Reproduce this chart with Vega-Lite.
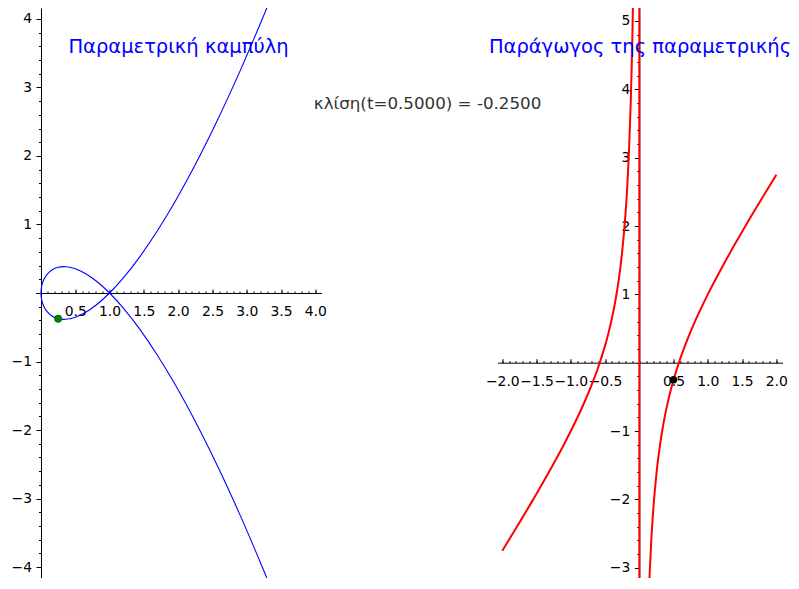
{
  "$schema": "https://vega.github.io/schema/vega-lite/v6.json",
  "padding": {"left": 10.5, "top": 8, "right": 0, "bottom": 0},
  "bounds": "flush",
  "spacing": 176,
  "config": {
    "view": {"stroke": null},
    "font": "DejaVu Sans",
    "axis": {
      "grid": false,
      "title": null,
      "domainColor": "#000000",
      "domainWidth": 1,
      "tickColor": "#000000",
      "tickWidth": 1,
      "labelColor": "#000000",
      "labelFont": "DejaVu Sans",
      "labelFontSize": 13.9,
      "labelFlush": false,
      "labelOverlap": false,
      "labelBound": false
    },
    "title": {"font": "DejaVu Sans", "fontWeight": "normal"}
  },
  "title": {
    "text": "κλίση(t=0.5000) = -0.2500",
    "orient": "top",
    "anchor": "middle",
    "frame": "bounds",
    "offset": -118,
    "baseline": "alphabetic",
    "dx": 26.5,
    "color": "#333333",
    "fontSize": 16.7,
    "fontWeight": "normal",
    "font": "DejaVu Sans"
  },
  "datasets": {
    "curve": [
      {"t": -1.85, "x": 3.4225, "y": -4.481625},
      {"t": -1.8, "x": 3.24, "y": -4.032},
      {"t": -1.7, "x": 2.89, "y": -3.213},
      {"t": -1.6, "x": 2.56, "y": -2.496},
      {"t": -1.5, "x": 2.25, "y": -1.875},
      {"t": -1.4, "x": 1.96, "y": -1.344},
      {"t": -1.3, "x": 1.69, "y": -0.897},
      {"t": -1.2, "x": 1.44, "y": -0.528},
      {"t": -1.1, "x": 1.21, "y": -0.231},
      {"t": -1.0, "x": 1.0, "y": 0.0},
      {"t": -0.9, "x": 0.81, "y": 0.171},
      {"t": -0.8, "x": 0.64, "y": 0.288},
      {"t": -0.7, "x": 0.49, "y": 0.357},
      {"t": -0.6, "x": 0.36, "y": 0.384},
      {"t": -0.5, "x": 0.25, "y": 0.375},
      {"t": -0.4, "x": 0.16, "y": 0.336},
      {"t": -0.3, "x": 0.09, "y": 0.273},
      {"t": -0.2, "x": 0.04, "y": 0.192},
      {"t": -0.1, "x": 0.01, "y": 0.099},
      {"t": 0.0, "x": 0.0, "y": 0.0},
      {"t": 0.1, "x": 0.01, "y": -0.099},
      {"t": 0.2, "x": 0.04, "y": -0.192},
      {"t": 0.3, "x": 0.09, "y": -0.273},
      {"t": 0.4, "x": 0.16, "y": -0.336},
      {"t": 0.5, "x": 0.25, "y": -0.375},
      {"t": 0.6, "x": 0.36, "y": -0.384},
      {"t": 0.7, "x": 0.49, "y": -0.357},
      {"t": 0.8, "x": 0.64, "y": -0.288},
      {"t": 0.9, "x": 0.81, "y": -0.171},
      {"t": 1.0, "x": 1.0, "y": 0.0},
      {"t": 1.1, "x": 1.21, "y": 0.231},
      {"t": 1.2, "x": 1.44, "y": 0.528},
      {"t": 1.3, "x": 1.69, "y": 0.897},
      {"t": 1.4, "x": 1.96, "y": 1.344},
      {"t": 1.5, "x": 2.25, "y": 1.875},
      {"t": 1.6, "x": 2.56, "y": 2.496},
      {"t": 1.7, "x": 2.89, "y": 3.213},
      {"t": 1.8, "x": 3.24, "y": 4.032},
      {"t": 1.85, "x": 3.4225, "y": 4.481625}
    ],
    "deriv": [
      {"t": -2.0, "y": -2.75},
      {"t": -1.9, "y": -2.586842},
      {"t": -1.8, "y": -2.422222},
      {"t": -1.7, "y": -2.255882},
      {"t": -1.6, "y": -2.0875},
      {"t": -1.5, "y": -1.916667},
      {"t": -1.4, "y": -1.742857},
      {"t": -1.3, "y": -1.565385},
      {"t": -1.2, "y": -1.383333},
      {"t": -1.1, "y": -1.195455},
      {"t": -1.0, "y": -1.0},
      {"t": -0.9, "y": -0.794444},
      {"t": -0.8, "y": -0.575},
      {"t": -0.7, "y": -0.335714},
      {"t": -0.6, "y": -0.066667},
      {"t": -0.5, "y": 0.25},
      {"t": -0.45, "y": 0.436111},
      {"t": -0.4, "y": 0.65},
      {"t": -0.35, "y": 0.903571},
      {"t": -0.3, "y": 1.216667},
      {"t": -0.25, "y": 1.625},
      {"t": -0.2, "y": 2.2},
      {"t": -0.175, "y": 2.594643},
      {"t": -0.15, "y": 3.108333},
      {"t": -0.125, "y": 3.8125},
      {"t": -0.11, "y": 4.380455},
      {"t": -0.1, "y": 4.85},
      {"t": -0.09, "y": 5.420556},
      {"t": -0.08, "y": 6.13},
      {"t": -0.005, "y": 99.9925},
      {"t": 0.005, "y": -99.9925},
      {"t": 0.08, "y": -6.13},
      {"t": 0.09, "y": -5.420556},
      {"t": 0.1, "y": -4.85},
      {"t": 0.11, "y": -4.380455},
      {"t": 0.125, "y": -3.8125},
      {"t": 0.15, "y": -3.108333},
      {"t": 0.175, "y": -2.594643},
      {"t": 0.2, "y": -2.2},
      {"t": 0.25, "y": -1.625},
      {"t": 0.3, "y": -1.216667},
      {"t": 0.35, "y": -0.903571},
      {"t": 0.4, "y": -0.65},
      {"t": 0.45, "y": -0.436111},
      {"t": 0.5, "y": -0.25},
      {"t": 0.6, "y": 0.066667},
      {"t": 0.7, "y": 0.335714},
      {"t": 0.8, "y": 0.575},
      {"t": 0.9, "y": 0.794444},
      {"t": 1.0, "y": 1.0},
      {"t": 1.1, "y": 1.195455},
      {"t": 1.2, "y": 1.383333},
      {"t": 1.3, "y": 1.565385},
      {"t": 1.4, "y": 1.742857},
      {"t": 1.5, "y": 1.916667},
      {"t": 1.6, "y": 2.0875},
      {"t": 1.7, "y": 2.255882},
      {"t": 1.8, "y": 2.422222},
      {"t": 1.9, "y": 2.586842},
      {"t": 2.0, "y": 2.75}
    ],
    "point1": [{"x": 0.25, "y": -0.375}],
    "point2": [{"t": 0.5, "y": -0.25}]
  },
  "hconcat": [
    {
      "width": 286,
      "height": 570,
      "title": {
        "text": "Παραμετρική καμπύλη",
        "orient": "top",
        "anchor": "middle",
        "offset": -64.9,
        "baseline": "alphabetic",
        "color": "#0000ff",
        "fontSize": 19.5,
        "fontWeight": "normal"
      },
      "resolve": {"axis": {"x": "independent", "y": "independent"}},
      "layer": [
        {
          "data": {"name": "curve"},
          "mark": {"type": "line", "color": "#0000ff", "strokeWidth": 1.1, "clip": true, "interpolate": "catmull-rom"},
          "encoding": {
            "x": {
              "field": "x", "type": "quantitative",
              "scale": {"domain": [-0.08, 4.09], "nice": false, "zero": false},
              "axis": {"orient": "bottom", "offset": -285, "values": [0.5, 1, 1.5, 2, 2.5, 3, 3.5, 4], "format": ".1f", "tickSize": -4, "labelPadding": 15.5}
            },
            "y": {
              "field": "y", "type": "quantitative",
              "scale": {"domain": [-4.16, 4.16], "nice": false, "zero": false},
              "axis": {"orient": "left", "offset": -5.5, "values": [-4, -3, -2, -1, 1, 2, 3, 4], "format": "d", "tickSize": 5, "labelPadding": 4.5}
            },
            "order": {"field": "t", "type": "quantitative"}
          }
        },
        {
          "data": {"name": "point1"},
          "mark": {"type": "circle", "size": 55, "color": "#008000", "opacity": 1, "stroke": "#005a00", "strokeWidth": 0.6},
          "encoding": {
            "x": {
              "field": "x", "type": "quantitative",
              "scale": {"domain": [-0.08, 4.09], "nice": false, "zero": false},
              "axis": {"orient": "bottom", "offset": -285, "labels": false, "domain": false, "tickSize": -2,
                "values": [0.1,0.2,0.3,0.4,0.5,0.6,0.7,0.8,0.9,1,1.1,1.2,1.3,1.4,1.5,1.6,1.7,1.8,1.9,2,2.1,2.2,2.3,2.4,2.5,2.6,2.7,2.8,2.9,3,3.1,3.2,3.3,3.4,3.5,3.6,3.7,3.8,3.9,4]}
            },
            "y": {
              "field": "y", "type": "quantitative",
              "scale": {"domain": [-4.16, 4.16], "nice": false, "zero": false},
              "axis": {"orient": "left", "offset": -5.5, "labels": false, "domain": false, "tickSize": 2.5,
                "values": [-4,-3.8,-3.6,-3.4,-3.2,-3,-2.8,-2.6,-2.4,-2.2,-2,-1.8,-1.6,-1.4,-1.2,-1,-0.8,-0.6,-0.4,-0.2,0,0.2,0.4,0.6,0.8,1,1.2,1.4,1.6,1.8,2,2.2,2.4,2.6,2.8,3,3.2,3.4,3.6,3.8,4]}
            }
          }
        }
      ]
    },
    {
      "width": 285,
      "height": 570,
      "title": {
        "text": "Παράγωγος της παραμετρικής",
        "orient": "top",
        "anchor": "middle",
        "offset": -64.9,
        "baseline": "alphabetic",
        "color": "#0000ff",
        "fontSize": 19.5,
        "fontWeight": "normal"
      },
      "resolve": {"axis": {"x": "independent", "y": "independent"}},
      "layer": [
        {
          "data": {"name": "deriv"},
          "mark": {"type": "line", "color": "#ff0000", "strokeWidth": 2, "clip": true, "interpolate": "monotone"},
          "encoding": {
            "x": {
              "field": "t", "type": "quantitative",
              "scale": {"domain": [-2.07, 2.09], "nice": false, "zero": false},
              "axis": {"orient": "bottom", "offset": -215.3, "values": [-2, -1.5, -1, -0.5, 0.5, 1, 1.5, 2], "format": ".1f", "tickSize": -4, "labelPadding": 15.5}
            },
            "y": {
              "field": "y", "type": "quantitative",
              "scale": {"domain": [-3.15, 5.19], "nice": false, "zero": false},
              "axis": {"orient": "left", "offset": -141.8, "values": [-3, -2, -1, 1, 2, 3, 4, 5], "format": "d", "tickSize": 5, "labelPadding": 4.5}
            }
          }
        },
        {
          "data": {"name": "point2"},
          "mark": {"type": "circle", "size": 55, "color": "#000000", "opacity": 1},
          "encoding": {
            "x": {
              "field": "t", "type": "quantitative",
              "scale": {"domain": [-2.07, 2.09], "nice": false, "zero": false},
              "axis": {"orient": "bottom", "offset": -215.3, "labels": false, "domain": false, "tickSize": -2,
                "values": [-2,-1.9,-1.8,-1.7,-1.6,-1.5,-1.4,-1.3,-1.2,-1.1,-1,-0.9,-0.8,-0.7,-0.6,-0.5,-0.4,-0.3,-0.2,-0.1,0,0.1,0.2,0.3,0.4,0.5,0.6,0.7,0.8,0.9,1,1.1,1.2,1.3,1.4,1.5,1.6,1.7,1.8,1.9,2]}
            },
            "y": {
              "field": "y", "type": "quantitative",
              "scale": {"domain": [-3.15, 5.19], "nice": false, "zero": false},
              "axis": {"orient": "left", "offset": -141.8, "labels": false, "domain": false, "tickSize": 2.5,
                "values": [-3,-2.8,-2.6,-2.4,-2.2,-2,-1.8,-1.6,-1.4,-1.2,-1,-0.8,-0.6,-0.4,-0.2,0,0.2,0.4,0.6,0.8,1,1.2,1.4,1.6,1.8,2,2.2,2.4,2.6,2.8,3,3.2,3.4,3.6,3.8,4,4.2,4.4,4.6,4.8,5]}
            }
          }
        }
      ]
    }
  ]
}
